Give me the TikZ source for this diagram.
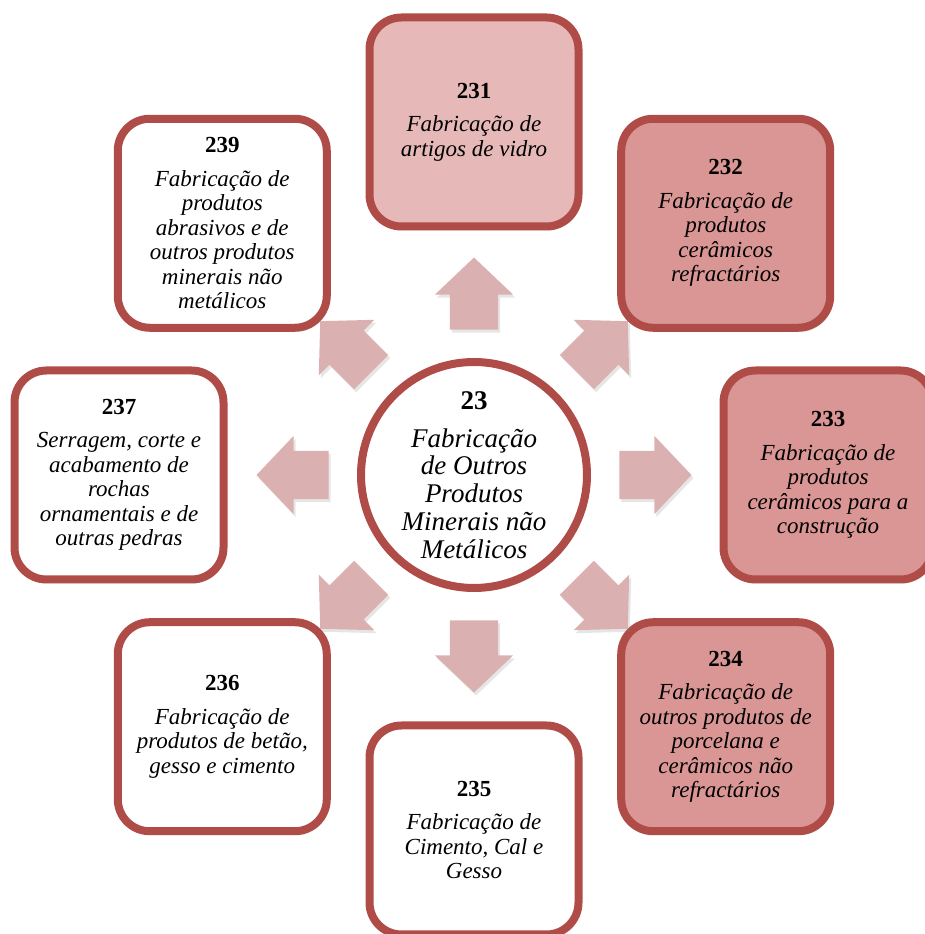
\documentclass[tikz,border=0pt]{standalone}
\usepackage{fontspec}
\setmainfont{Liberation Serif}
\usetikzlibrary{shapes.arrows,shadows}
\definecolor{rim}{RGB}{176,76,72}
\definecolor{palerose}{RGB}{230,185,184}
\definecolor{rose}{RGB}{217,150,148}
\definecolor{arrowrose}{RGB}{219,176,177}
\tikzset{
box/.style={rectangle, draw=rim, line width=8pt, fill=white, rounded corners=32pt,
  minimum width=209pt, minimum height=209pt, inner sep=2pt, align=center,
  font=\itshape\fontsize{23}{24.5}\selectfont,
  drop shadow={opacity=0.22, shadow xshift=2pt, shadow yshift=-4pt}},
hub/.style={circle, draw=rim, line width=8pt, fill=white, minimum size=226pt,
  inner sep=0pt, align=center, font=\itshape\fontsize{27}{27.7}\selectfont,
  drop shadow={opacity=0.18, shadow xshift=2pt, shadow yshift=-3pt}},
blockarrow/.style={single arrow, fill=arrowrose, draw=none,
  inner xsep=0pt, inner ysep=24pt,
  minimum height=72pt, single arrow head extend=15pt,
  single arrow tip angle=93,
  drop shadow={opacity=0.2, shadow xshift=2pt, shadow yshift=-3pt}}
}
\newcommand{\code}[1]{{\upshape\bfseries\fontsize{23}{26}\selectfont #1}}
\newcommand{\hubcode}[1]{{\upshape\bfseries\fontsize{27}{28}\selectfont #1}}

\begin{document}
\begin{tikzpicture}[x=1pt, y=1pt]
    \useasboundingbox (0,0) rectangle (925,934);
    \clip (0,0) rectangle (925,934);
    % Place nodes
    \node [hub] (hub) at (474,459) {\hubcode{23}\\[10pt]Fabricação\\de Outros\\Produtos\\Minerais não\\Metálicos};
    \node [box, fill=palerose] (b231) at ([shift={(90:353)}]hub) {\code{231}\\[9pt]Fabricação de\\artigos de vidro};
    \node [box, fill=rose] (b232) at ([shift={(45:356)}]hub) {\code{232}\\[9pt]Fabricação de\\produtos\\cerâmicos\\refractários};
    \node [box, fill=rose] (b233) at ([shift={(0:354)}]hub) {\code{233}\\[9pt]Fabricação de\\produtos\\cerâmicos para a\\construção};
    \node [box, fill=rose] (b234) at ([shift={(-45:356)}]hub) {\code{234}\\[9pt]Fabricação de\\outros produtos de\\porcelana e\\cerâmicos não\\refractários};
    \node [box] (b235) at ([shift={(-90:355)}]hub) {\code{235}\\[9pt]Fabricação de\\Cimento, Cal e\\Gesso};
    \node [box] (b236) at ([shift={(-135:356)}]hub) {\code{236}\\[9pt]Fabricação de\\produtos de betão,\\gesso e cimento};
    \node [box] (b237) at ([shift={(180:355)}]hub) {\code{237}\\[9pt]Serragem, corte e\\acabamento de\\rochas\\ornamentais e de\\outras pedras};
    \node [box] (b239) at ([shift={(135:356)}]hub) {\code{239}\\[9pt]Fabricação de\\produtos\\abrasivos e de\\outros produtos\\minerais não\\metálicos};
    % Draw arrows
    \foreach \ang in {0,45,...,315}
        \node [blockarrow, rotate=\ang] (arrow\ang) at ([shift={(\ang:170)}]hub) {};
\end{tikzpicture}
\end{document}
